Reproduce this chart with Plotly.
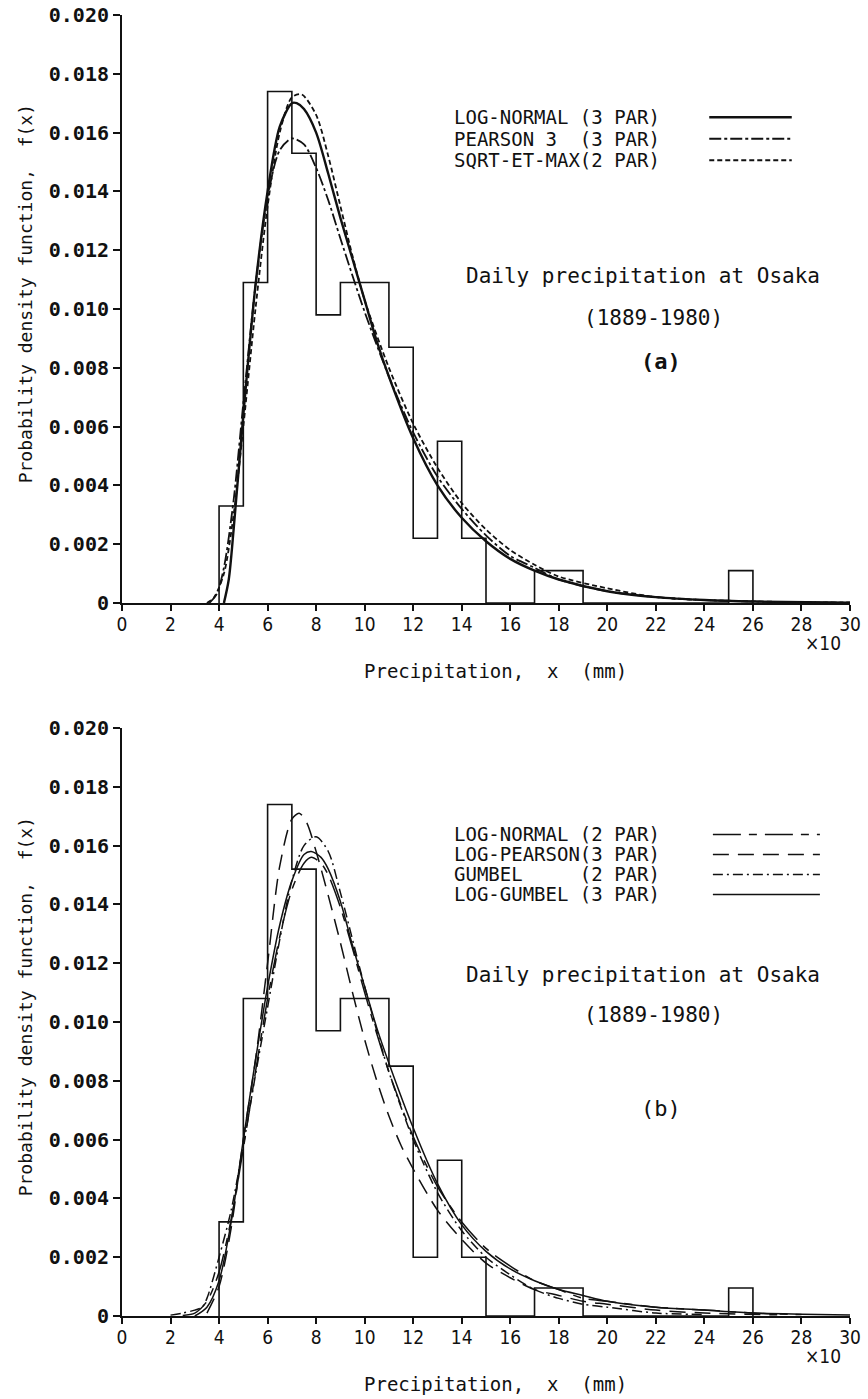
import plotly.graph_objects as go

# ---------------- data ----------------
bin_edges = [4, 5, 6, 7, 8, 9, 10, 11, 12, 13, 14, 15, 16, 17, 18, 19, 20, 21, 22, 23, 24, 25, 26]
hist_a = [0.0033, 0.0109, 0.0174, 0.0153, 0.0098, 0.0109, 0.0109, 0.0087, 0.0022, 0.0055, 0.0022,
          0, 0, 0.0011, 0.0011, 0, 0, 0, 0, 0, 0, 0.0011]
hist_b = [0.0032, 0.0108, 0.0174, 0.0152, 0.0097, 0.0108, 0.0108, 0.0085, 0.0020, 0.0053, 0.0020,
          0, 0, 0.00095, 0.00095, 0, 0, 0, 0, 0, 0, 0.00095]

# panel (a) fitted curves
ln3_x = [4.2, 4.4, 4.6, 5.0, 5.5, 6.0, 6.5, 7.0, 7.2, 7.5, 8.0, 8.5, 9.0, 9.5, 10.0, 10.5, 11.0, 12.0,
         13.0, 14.0, 15.0, 16.0, 17.0, 18.0, 20.0, 22.0, 24.0, 26.0, 30.0]
ln3_y = [0.0, 0.0008, 0.0025, 0.0064, 0.0108, 0.0140, 0.0162, 0.0170, 0.0170, 0.0168, 0.0160, 0.0146,
         0.0131, 0.0117, 0.0103, 0.0089, 0.0077, 0.0056, 0.0040, 0.0029, 0.0021, 0.0015, 0.0011,
         0.0008, 0.0004, 0.0002, 0.0001, 0.00005, 0.00001]
p3_x = [3.6, 3.9, 4.2, 4.6, 5.0, 5.5, 6.0, 6.5, 7.0, 7.5, 8.0, 8.5, 9.0, 10.0, 11.0, 12.0, 13.0, 14.0,
        15.0, 16.0, 17.0, 18.0, 20.0, 22.0, 24.0, 27.0, 30.0]
p3_y = [0.0, 0.0003, 0.0012, 0.0035, 0.0068, 0.0108, 0.0138, 0.0154, 0.0158, 0.0156, 0.0148, 0.0137,
        0.0124, 0.0099, 0.0077, 0.0058, 0.0043, 0.0032, 0.0023, 0.0016, 0.0012, 0.0008, 0.0004,
        0.0002, 0.0001, 0.00003, 0.00001]
se_x = [3.5, 3.8, 4.2, 4.6, 5.0, 5.5, 6.0, 6.5, 7.0, 7.4, 8.0, 8.5, 9.0, 9.5, 10.0, 11.0, 12.0, 13.0,
        14.0, 15.0, 16.0, 17.0, 18.0, 20.0, 22.0, 24.0, 27.0, 30.0]
se_y = [0.0, 0.0002, 0.0010, 0.0030, 0.0060, 0.0100, 0.0135, 0.0160, 0.0172, 0.0173, 0.0166, 0.0152,
        0.0135, 0.0118, 0.0103, 0.0080, 0.0061, 0.0046, 0.0034, 0.0025, 0.0018, 0.0013, 0.0009,
        0.0005, 0.0002, 0.0001, 0.00004, 0.00001]

# panel (b) fitted curves
ln2_x = [2.5, 3.0, 3.5, 4.0, 4.5, 5.0, 5.5, 6.0, 6.5, 7.0, 7.5, 7.8, 8.2, 8.5, 9.0, 9.5, 10.0, 10.5,
         11.0, 12.0, 13.0, 14.0, 15.0, 16.0, 17.0, 18.0, 19.0, 20.0, 22.0, 24.0, 26.0, 28.0]
ln2_y = [0.00002, 0.0001, 0.0005, 0.0015, 0.0033, 0.0057, 0.0083, 0.0108, 0.0129, 0.0145, 0.0154,
         0.0156, 0.0154, 0.0150, 0.0139, 0.0125, 0.0110, 0.0096, 0.0083, 0.0061, 0.0044, 0.0032,
         0.0023, 0.0017, 0.0012, 0.0009, 0.0006, 0.0005, 0.0003, 0.0002, 0.0001, 0.00005]
lp3_x = [3.5, 4.0, 4.5, 5.0, 5.5, 6.0, 6.5, 7.0, 7.3, 7.6, 8.0, 8.5, 9.0, 9.5, 10.0, 10.5, 11.0, 11.5,
         12.0, 13.0, 14.0, 15.0, 16.0, 17.0, 18.0, 19.0, 20.0, 22.0, 24.0, 27.0]
lp3_y = [0.0001, 0.0010, 0.0030, 0.0060, 0.0087, 0.0120, 0.0153, 0.0169, 0.0171, 0.0168, 0.0158,
         0.0143, 0.0127, 0.0110, 0.0094, 0.0080, 0.0068, 0.0058, 0.0050, 0.0036, 0.0026, 0.0018,
         0.0013, 0.0009, 0.0007, 0.0005, 0.0004, 0.0002, 0.0001, 0.00004]
gu_x = [2.0, 2.5, 3.0, 3.3, 3.5, 4.0, 4.5, 5.0, 5.5, 6.0, 6.5, 7.0, 7.5, 8.0, 8.5, 9.0, 10.0, 11.0,
        12.0, 13.0, 14.0, 15.0, 16.0, 17.0, 18.0, 19.0, 20.0, 22.0, 24.0]
gu_y = [0.00003, 0.0001, 0.0002, 0.0003, 0.0006, 0.0020, 0.0036, 0.0058, 0.0082, 0.0105, 0.0128,
        0.0148, 0.0160, 0.0163, 0.0158, 0.0144, 0.0112, 0.0083, 0.0060, 0.0042, 0.0029, 0.0020,
        0.0014, 0.0009, 0.0006, 0.0004, 0.0003, 0.0001, 0.00005]
lg3_x = [3.0, 3.5, 4.0, 4.5, 5.0, 5.5, 6.0, 6.5, 7.0, 7.5, 7.8, 8.2, 8.5, 9.0, 9.5, 10.0, 10.5, 11.0,
         12.0, 13.0, 14.0, 15.0, 16.0, 17.0, 18.0, 19.0, 20.0, 22.0, 24.0, 26.0, 28.0, 30.0]
lg3_y = [0.0, 0.0003, 0.0012, 0.0032, 0.0060, 0.0087, 0.0112, 0.0133, 0.0148, 0.0157, 0.0158,
         0.0156, 0.0152, 0.0141, 0.0126, 0.0112, 0.0098, 0.0086, 0.0064, 0.0045, 0.0031, 0.0022,
         0.0016, 0.0012, 0.0009, 0.0007, 0.0005, 0.0003, 0.0002, 0.0001, 0.00006, 0.00003]

x_ticks = [0, 2, 4, 6, 8, 10, 12, 14, 16, 18, 20, 22, 24, 26, 28, 30]
y_ticks = [0, 0.002, 0.004, 0.006, 0.008, 0.010, 0.012, 0.014, 0.016, 0.018, 0.020]
y_ticktext = ["0", "0.002", "0.004", "0.006", "0.008", "0.010", "0.012", "0.014", "0.016", "0.018", "0.020"]

legend_a = ["LOG-NORMAL (3 PAR)", "PEARSON 3  (3 PAR)", "SQRT-ET-MAX(2 PAR)"]
legend_b = ["LOG-NORMAL (2 PAR)", "LOG-PEARSON(3 PAR)", "GUMBEL     (2 PAR)", "LOG-GUMBEL (3 PAR)"]

# ---------------- styles ----------------
INK = "#111111"
MONO = "DejaVu Sans Mono, monospace"
NARROW = "Liberation Sans Narrow, DejaVu Sans Condensed, Arial Narrow, sans-serif"

styles_a = [dict(width=2.4, dash="solid"),
            dict(width=1.8, dash="12px,3px,3px,3px"),
            dict(width=1.8, dash="5px,3px")]
styles_b = [dict(width=1.5, dash="28px,8px,8px,8px"),
            dict(width=1.5, dash="16px,9px"),
            dict(width=1.5, dash="10px,4px,2px,4px"),
            dict(width=1.5, dash="solid")]

fig = go.Figure()

def step_xy(edges, dens):
    xs = [edges[0]] + list(edges)
    ys = [0] + list(dens) + [0]
    return xs, ys

for axn, dens in (("", hist_a), ("2", hist_b)):
    hx, hy = step_xy(bin_edges, dens)
    fig.add_trace(go.Scatter(x=hx, y=hy, mode="lines", line=dict(color=INK, width=1.6, shape="hv"),
                             xaxis="x" + axn, yaxis="y" + axn, showlegend=False, hoverinfo="skip"))

curves_a = [(ln3_x, ln3_y), (p3_x, p3_y), (se_x, se_y)]
for (cx, cy), st, name in zip(curves_a, styles_a, legend_a):
    fig.add_trace(go.Scatter(x=cx, y=cy, mode="lines", name=name,
                             line=dict(color=INK, width=st["width"], dash=st["dash"], shape="spline", smoothing=0.8),
                             xaxis="x", yaxis="y", showlegend=False))
curves_b = [(ln2_x, ln2_y), (lp3_x, lp3_y), (gu_x, gu_y), (lg3_x, lg3_y)]
for (cx, cy), st, name in zip(curves_b, styles_b, legend_b):
    fig.add_trace(go.Scatter(x=cx, y=cy, mode="lines", name=name,
                             line=dict(color=INK, width=st["width"], dash=st["dash"], shape="spline", smoothing=0.8),
                             xaxis="x2", yaxis="y2", showlegend=False))

W, H = 868, 1399
L, R = 122, 18
PW = W - L - R
dom_a = [1 - 603 / H, 1 - 15 / H]
dom_b = [1 - 1316 / H, 1 - 728 / H]

xax = dict(range=[0, 30], tickvals=x_ticks, ticks="outside", ticklen=6, tickwidth=2, tickcolor=INK,
           showline=True, linewidth=2, linecolor=INK, showgrid=False, zeroline=False,
           ticklabelstandoff=-3,
           tickfont=dict(family=NARROW, size=19, color=INK), automargin=False)
yax = dict(range=[0, 0.020], tickvals=y_ticks, ticktext=y_ticktext, ticks="outside", ticklen=7,
           tickwidth=2, tickcolor=INK, showline=True, linewidth=2, linecolor=INK, showgrid=False,
           zeroline=False, tickfont=dict(family=MONO, size=20, color=INK, weight="bold"), automargin=False)

annotations = []
shapes = []
for axn, legend, styles, ytext, lx0, lx1, ly0, dy, lfs, lab, labw, laby in (
        ("", legend_a, styles_a, [0.01113, 0.00970], 24.2, 27.6, 0.01652, 0.00073, 19, "(a)", "bold", 0.00820),
        ("2", legend_b, styles_b, [0.01160, 0.01025], 24.35, 28.76, 0.01638, 0.00068, 19, "(b)", "normal", 0.00705)):
    xr, yr = "x" + axn, "y" + axn
    for i, (txt, st) in enumerate(zip(legend, styles)):
        yy = ly0 - i * dy
        annotations.append(dict(x=13.6, y=yy, xref=xr, yref=yr, text=txt, showarrow=False,
                                xanchor="left", yanchor="middle",
                                font=dict(family=MONO, size=lfs, color=INK)))
        shapes.append(dict(type="line", xref=xr, yref=yr, x0=lx0, x1=lx1, y0=yy, y1=yy,
                           line=dict(color=INK, width=st["width"], dash=st["dash"])))
    annotations.append(dict(x=21.45, y=ytext[0], xref=xr, yref=yr, text="Daily precipitation at Osaka",
                            showarrow=False, font=dict(family=MONO, size=21, color=INK)))
    annotations.append(dict(x=21.9, y=ytext[1], xref=xr, yref=yr, text="(1889-1980)",
                            showarrow=False, font=dict(family=MONO, size=21, color=INK)))
    annotations.append(dict(x=22.2, y=laby, xref=xr, yref=yr, text=lab,
                            showarrow=False, font=dict(family=MONO, size=22, color=INK, weight=labw)))
    annotations.append(dict(x=28.9, y=0, xref=xr, yref=yr, text="×10", showarrow=False,
                            yanchor="middle", yshift=-40,
                            font=dict(family=NARROW, size=19, color=INK)))
    annotations.append(dict(x=15.4, y=0, xref=xr, yref=yr, text="Precipitation,  x  (mm)", showarrow=False,
                            yanchor="middle", yshift=-68,
                            font=dict(family=MONO, size=19, color=INK)))
    annotations.append(dict(x=(25 - L) / PW, xref="paper", y=0.0105, yref=yr,
                            text="Probability density function,  f(x)",
                            showarrow=False, textangle=-90, xanchor="center", yanchor="middle",
                            font=dict(family=MONO, size=18, color=INK)))

fig.update_layout(
    width=W, height=H, paper_bgcolor="white", plot_bgcolor="white",
    margin=dict(l=L, r=R, t=0, b=0),
    xaxis=dict(xax, domain=[0, 1], anchor="y"),
    yaxis=dict(yax, domain=dom_a, anchor="x"),
    xaxis2=dict(xax, domain=[0, 1], anchor="y2"),
    yaxis2=dict(yax, domain=dom_b, anchor="x2"),
    annotations=annotations, shapes=shapes, showlegend=False,
)

fig.write_html("out.html", config={"displayModeBar": False},
               post_script="document.body.style.margin='0px';document.body.style.padding='0px';")
